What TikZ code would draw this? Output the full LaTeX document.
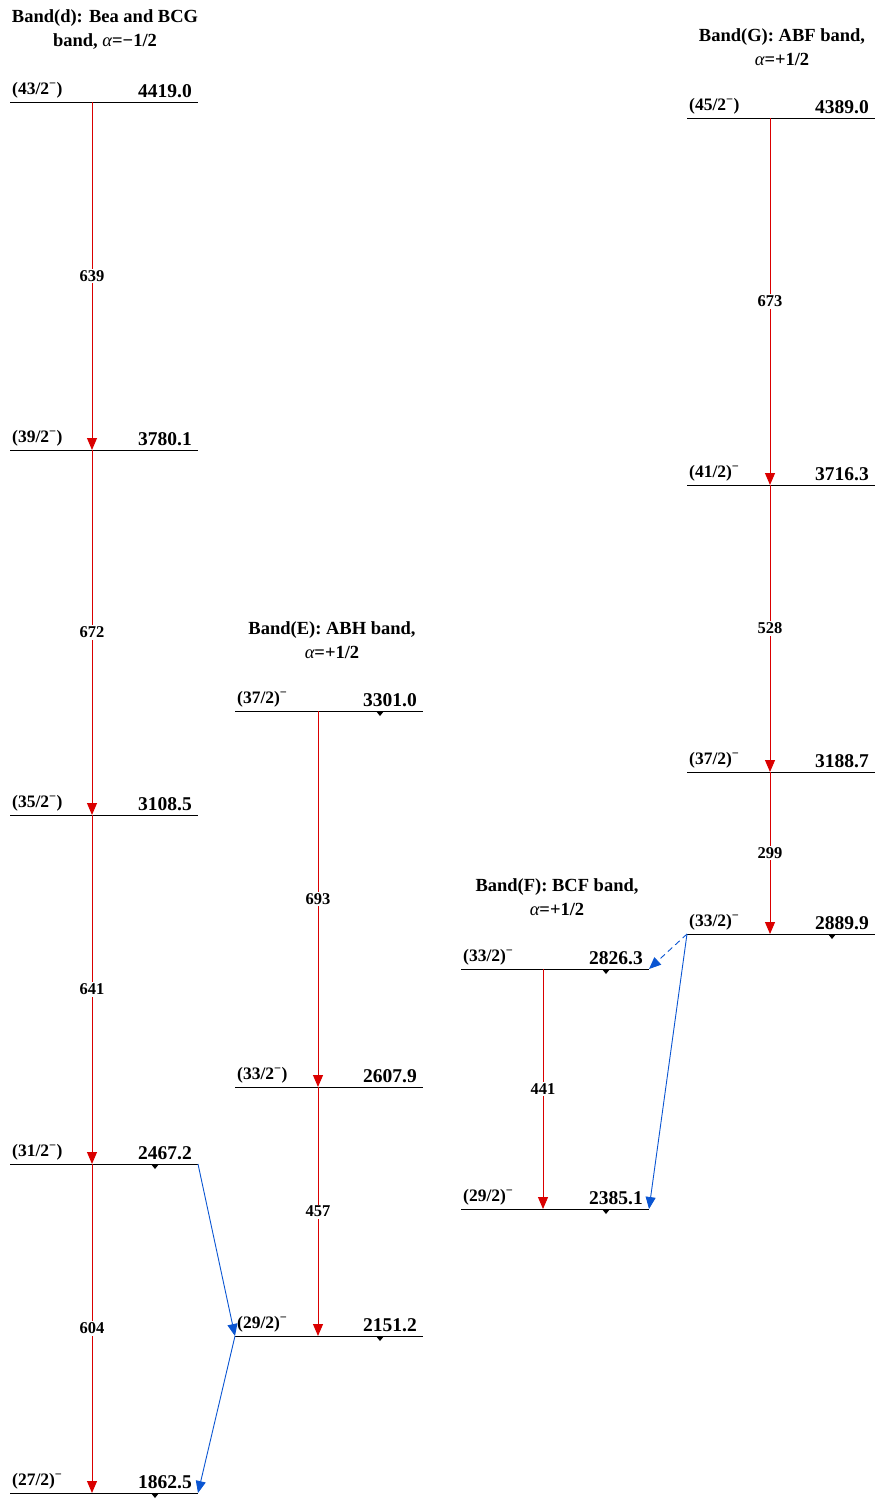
\documentclass[tikz,border=0pt]{standalone}
\usepackage{fontspec}
\setmainfont{Liberation Serif}
\usetikzlibrary{arrows.meta,calc}
\definecolor{tred}{RGB}{218,0,0}
\definecolor{tblue}{RGB}{10,85,210}
\newcommand\enlevel[6]{%
  \coordinate (#1-l) at (#2,#3);
  \coordinate (#1-r) at ({#2+188},#3);
  \coordinate (#1-a) at (#6,#3);
  \draw[lvl] (#1-l) -- (#1-r);
  \node[spin,anchor=base west] (#1-s) at ({#2+2},{#3-8}) {#4};
  \node[energy,anchor=base east] (#1-e) at ({#2+182},{#3-5}) {#5};
}
\newcommand\enmark[1]{%
  \fill ([xshift=-47pt]#1-r) -- ([xshift=-39pt]#1-r) -- ([xshift=-43pt,yshift=-5pt]#1-r) -- cycle;
}
\begin{document}
\begin{tikzpicture}[x=1pt,y=-1pt,
  lvl/.style={line width=1pt,black},
  spin/.style={font=\bfseries\fontsize{17.5}{20}\selectfont,inner sep=0pt},
  energy/.style={font=\bfseries\fontsize{19.5}{22}\selectfont,inner sep=0pt},
  head/.style={font=\bfseries\fontsize{18.5}{24}\selectfont,align=center,inner sep=0pt},
  tlab/.style={font=\bfseries\fontsize{16.5}{18}\selectfont,fill=white,text=black,inner sep=1.5pt},
  gam/.style={draw=tred,line width=1pt,-{Triangle[length=12pt,width=10pt,fill=tred]}},
  link/.style={tblue,line width=0.9pt,-{Triangle[length=12pt,width=10pt]}}
]
\useasboundingbox (0,0) rectangle (876,1499);
% headers
\node[head] (hd) at (105,30) {Band(d): Bea and BCG\\band, {\normalfont\itshape α}=−1/2};
\node[head] (hg) at (782,47) {Band(G): ABF band,\\{\normalfont\itshape α}=+1/2};
\node[head] (he) at (332,640) {Band(E): ABH band,\\{\normalfont\itshape α}=+1/2};
\node[head] (hf) at (557,897) {Band(F): BCF band,\\{\normalfont\itshape α}=+1/2};
% band d
\enlevel{d1}{10}{102}{(43/2\textsuperscript{−})}{4419.0}{92}
\enlevel{d2}{10}{450}{(39/2\textsuperscript{−})}{3780.1}{92}
\enlevel{d3}{10}{815}{(35/2\textsuperscript{−})}{3108.5}{92}
\enlevel{d4}{10}{1164}{(31/2\textsuperscript{−})}{2467.2}{92}
\enlevel{d5}{10}{1493}{(27/2)\textsuperscript{−}}{1862.5}{92}
% band E
\enlevel{e1}{235}{711}{(37/2)\textsuperscript{−}}{3301.0}{318}
\enlevel{e2}{235}{1087}{(33/2\textsuperscript{−})}{2607.9}{318}
\enlevel{e3}{235}{1336}{(29/2)\textsuperscript{−}}{2151.2}{318}
% band F
\enlevel{f1}{461}{969}{(33/2)\textsuperscript{−}}{2826.3}{543}
\enlevel{f2}{461}{1209}{(29/2)\textsuperscript{−}}{2385.1}{543}
% band G
\enlevel{g1}{687}{118}{(45/2\textsuperscript{−})}{4389.0}{770}
\enlevel{g2}{687}{485}{(41/2)\textsuperscript{−}}{3716.3}{770}
\enlevel{g3}{687}{772}{(37/2)\textsuperscript{−}}{3188.7}{770}
\enlevel{g4}{687}{934}{(33/2)\textsuperscript{−}}{2889.9}{770}
% markers
\enmark{d4}\enmark{d5}\enmark{e1}\enmark{e3}\enmark{f1}\enmark{f2}\enmark{g4}
% gamma transitions
\draw[gam] (d1-a) -- node[tlab] (t639) {639} (d2-a);
\draw[gam] (d2-a) -- node[tlab] (t672) {672} (d3-a);
\draw[gam] (d3-a) -- node[tlab] (t641) {641} (d4-a);
\draw[gam] (d4-a) -- node[tlab] (t604) {604} (d5-a);
\draw[gam] (e1-a) -- node[tlab] (t693) {693} (e2-a);
\draw[gam] (e2-a) -- node[tlab] (t457) {457} (e3-a);
\draw[gam] (f1-a) -- node[tlab] (t441) {441} (f2-a);
\draw[gam] (g1-a) -- node[tlab] (t673) {673} (g2-a);
\draw[gam] (g2-a) -- node[tlab] (t528) {528} (g3-a);
\draw[gam] (g3-a) -- node[tlab] (t299) {299} (g4-a);
% linking transitions
\draw[link] (d4-r) -- (e3-l);
\draw[link] (e3-l) -- (d5-r);
\draw[link] (g4-l) -- (f2-r);
\draw[link,dash pattern=on 6pt off 4pt] (g4-l) -- (f1-r);
\end{tikzpicture}
\end{document}
